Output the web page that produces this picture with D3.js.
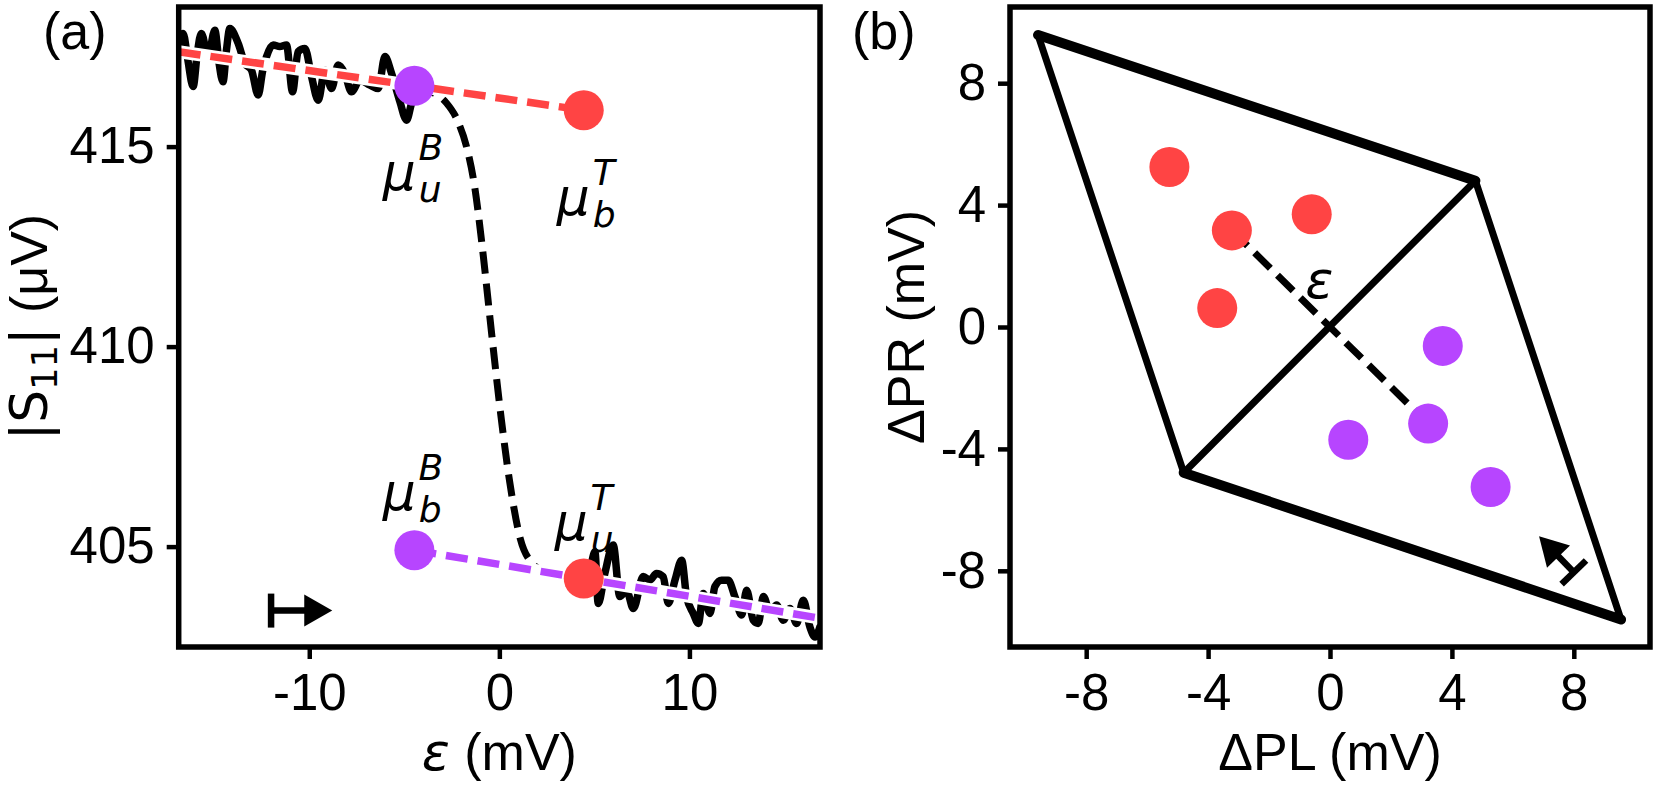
<!DOCTYPE html>
<html>
<head>
<meta charset="utf-8">
<title>Detuning sweep and charge cell</title>
<style>
  body {margin: 0; background: #fff;}
  svg {display: block;}
  .tick text {font-family: "Liberation Sans", Arial, sans-serif; font-size: 51px; fill: #000;}
  .tick line {stroke: #000; stroke-width: 4.5;}
  .label {font-family: "Liberation Sans", Arial, sans-serif; font-size: 52px; fill: #000;}
  .math {font-family: "DejaVu Sans", sans-serif; font-style: italic; fill: #000;}
  .frame {fill: none; stroke: #000; stroke-width: 5.5;}
</style>
</head>
<body>
<svg width="1659" height="785"></svg>
<script src="https://d3js.org/d3.v7.min.js"></script>
<script>
// ---- panel (a) data: |S11| (uV) against detuning eps (mV)
var traceLeft = [
  [-16.87, 417.55], [-16.64, 417.83], [-16.4, 417.2], [-16.11, 416.5], [-15.9, 417.3],
  [-15.68, 417.83], [-15.32, 417.25], [-14.97, 417.91], [-14.75, 417.1], [-14.54, 416.62],
  [-14.36, 417.4], [-14.18, 417.95], [-13.74, 417.58], [-13.39, 417.08], [-13.04, 416.91],
  [-12.69, 416.29], [-12.45, 416.9], [-12.25, 417.25], [-11.9, 417.54], [-11.55, 417.5],
  [-11.2, 417.54], [-10.88, 416.37], [-10.59, 417.37], [-10.23, 417.45], [-9.88, 416.75],
  [-9.53, 416.16], [-9.18, 416.91], [-8.83, 416.45], [-8.48, 417.04], [-8.13, 416.83],
  [-7.78, 416.37], [-7.34, 416.66], [-6.81, 416.54], [-6.37, 416.45], [-6.02, 417.25],
  [-5.67, 416.83], [-5.23, 416.12], [-4.88, 415.66], [-4.62, 416.08], [-4.3, 416.4],
  [-3.9, 416.3]
];
var traceRight = [
  [3.9, 404.3], [4.45, 404.25], [4.8, 404.5], [5.03, 404.87], [5.2, 403.58],
  [5.55, 404.33], [5.99, 405.04], [6.34, 403.75], [6.69, 403.91], [7.05, 403.45],
  [7.57, 404.25], [7.92, 404.16], [8.27, 404.33], [8.62, 404.25], [8.89, 403.58],
  [9.24, 404.16], [9.59, 404.66], [9.85, 403.75], [10.2, 403.33], [10.47, 403.08],
  [10.73, 403.83], [11.08, 403.33], [11.34, 404.0], [11.69, 404.16], [12.04, 404.16],
  [12.39, 403.75], [12.75, 403.29], [13.01, 403.91], [13.36, 403.16], [13.62, 403.08],
  [13.89, 403.75], [14.24, 403.37], [14.59, 403.54], [14.94, 403.16], [15.29, 403.45],
  [15.64, 403.08], [15.99, 403.66], [16.34, 402.99], [16.61, 402.74], [16.87, 403.0]
];
var stepCurve = [
  [-4.47, 416.52], [-3.6, 416.38], [-2.8, 416.1], [-2.2, 415.65], [-1.7, 414.95],
  [-1.3, 414.0], [-0.9, 412.5], [-0.4, 410.3], [0.1, 408.2], [0.55, 406.6],
  [1.1, 405.2], [1.7, 404.6], [2.6, 404.33], [3.5, 404.22], [4.44, 404.2]
];
var fitTop = [[-16.87, 417.37], [4.44, 415.91]];
var fitBottom = [[-4.47, 404.91], [16.87, 403.21]];
var redA = [[4.44, 415.91], [4.44, 404.2]];
var purpleA = [[-4.47, 416.52], [-4.47, 404.91]];
var muLabels = [
  {x: -4.72, y: 414.44, sub: "u", sup: "B"},
  {x: 4.44, y: 413.82, sub: "b", sup: "T"},
  {x: -4.72, y: 406.44, sub: "b", sup: "B"},
  {x: 4.33, y: 405.7, sub: "u", sup: "T"}
];
var arrowA = [[-12.01, 403.4], [-8.79, 403.4]];
var ticksAx = [-10, 0, 10];
var ticksAy = [405, 410, 415];

// ---- panel (b) data: dPL, dPR (mV)
var cellCorners = [[-9.58, 9.58], [4.77, 4.8], [9.55, -9.6], [-4.8, -4.78]];
var thickEdges = [[0, 1], [3, 2]];
var thinEdges = [[0, 3], [1, 2], [3, 1]];
var redB = [[-5.27, 5.25], [-3.22, 3.17], [-0.6, 3.7], [-3.7, 0.62]];
var purpleB = [[5.27, -5.25], [3.22, -3.17], [0.6, -3.7], [3.7, -0.62]];
var detuningLine = [[-3.22, 3.17], [3.22, -3.17]];
var epsLabelB = [-0.35, 1.55];
var arrowB = [[8.0, -8.05], [6.86, -6.87]];
var ticksB = [-8, -4, 0, 4, 8];

var RED = "#ff4444", PURPLE = "#b745ff";

var svg = d3.select("svg");
var fa = {left: 178.7, right: 820, top: 7, bottom: 647};
var fb = {left: 1010, right: 1650, top: 7, bottom: 647};

var xA = d3.scaleLinear().domain([-16.87, 16.87]).range([fa.left, fa.right]);
var yA = d3.scaleLinear().domain([402.49, 418.49]).range([fa.bottom, fa.top]);
var xB = d3.scaleLinear().domain([-10.5, 10.5]).range([fb.left, fb.right]);
var yB = d3.scaleLinear().domain([-10.5, 10.5]).range([fb.bottom, fb.top]);

var defs = svg.append("defs");
defs.append("clipPath").attr("id", "clipA").append("rect")
    .attr("x", fa.left).attr("y", fa.top).attr("width", fa.right - fa.left).attr("height", fa.bottom - fa.top);
defs.append("clipPath").attr("id", "clipB").append("rect")
    .attr("x", fb.left).attr("y", fb.top).attr("width", fb.right - fb.left).attr("height", fb.bottom - fb.top);

function fmt(d) { return String(d); }

function drawArrow(g, p0, p1) {
  var dx = p1[0] - p0[0], dy = p1[1] - p0[1];
  var L = Math.hypot(dx, dy), ang = Math.atan2(dy, dx) * 180 / Math.PI;
  var a = g.append("g").attr("transform", "translate(" + p0[0] + "," + p0[1] + ") rotate(" + ang + ")");
  a.append("line").attr("x1", 0).attr("y1", -17).attr("x2", 0).attr("y2", 17)
      .attr("stroke", "#000").attr("stroke-width", 6.5);
  a.append("line").attr("x1", 0).attr("y1", 0).attr("x2", L - 27).attr("y2", 0)
      .attr("stroke", "#000").attr("stroke-width", 6.5);
  a.append("path").attr("d", "M" + (L - 28) + ",-16L" + L + ",0L" + (L - 28) + ",16Z").attr("fill", "#000");
}

// mu label: one text element, sub and sup stacked after the mu
function muLabel(x, y, sub, sup) {
  var t = svg.append("text").attr("class", "math").attr("x", x - 27).attr("y", y + 21).attr("font-size", 52);
  t.append("tspan").text("μ");
  t.append("tspan").attr("font-size", 36).attr("dx", 3).attr("dy", 12).text(sub);
  t.append("tspan").attr("font-size", 36).attr("dx", -23).attr("dy", -42).text(sup);
}

// ================= panel (a)
var pa = svg.append("g").attr("clip-path", "url(#clipA)");
var lineA = d3.line().x(function(d) { return xA(d[0]); }).y(function(d) { return yA(d[1]); });

[traceLeft, traceRight].forEach(function(tr) {
  pa.append("path").attr("d", lineA.curve(d3.curveMonotoneX)(tr))
      .attr("fill", "none").attr("stroke", "#000").attr("stroke-width", 7.5)
      .attr("stroke-linejoin", "round").attr("stroke-linecap", "round");
});

pa.append("path").attr("d", lineA.curve(d3.curveMonotoneX)(stepCurve))
    .attr("fill", "none").attr("stroke", "#000").attr("stroke-width", 7)
    .attr("stroke-dasharray", "22,10");

lineA.curve(d3.curveLinear);
[[fitTop, RED], [fitBottom, PURPLE]].forEach(function(f) {
  pa.append("path").attr("d", lineA(f[0])).attr("fill", "none")
      .attr("stroke", "#fff").attr("stroke-width", 13);
  pa.append("path").attr("d", lineA(f[0])).attr("fill", "none")
      .attr("stroke", f[1]).attr("stroke-width", 7.5).attr("stroke-dasharray", "22,10");
});

pa.selectAll(".red").data(redA).enter().append("circle")
    .attr("cx", function(d) { return xA(d[0]); }).attr("cy", function(d) { return yA(d[1]); })
    .attr("r", 20).attr("fill", RED);
pa.selectAll(".purple").data(purpleA).enter().append("circle")
    .attr("cx", function(d) { return xA(d[0]); }).attr("cy", function(d) { return yA(d[1]); })
    .attr("r", 20).attr("fill", PURPLE);

muLabels.forEach(function(m) { muLabel(xA(m.x), yA(m.y), m.sub, m.sup); });

drawArrow(svg, [xA(arrowA[0][0]), yA(arrowA[0][1])], [xA(arrowA[1][0]), yA(arrowA[1][1])]);

svg.append("g").attr("transform", "translate(0," + fa.bottom + ")")
    .call(d3.axisBottom(xA).tickValues(ticksAx).tickFormat(fmt).tickSize(12).tickPadding(15))
    .call(function(g) { g.select(".domain").remove(); });
svg.append("g").attr("transform", "translate(" + fa.left + ",0)")
    .call(d3.axisLeft(yA).tickValues(ticksAy).tickFormat(fmt).tickSize(12).tickPadding(12))
    .call(function(g) { g.select(".domain").remove(); });
svg.append("rect").attr("class", "frame")
    .attr("x", fa.left).attr("y", fa.top).attr("width", fa.right - fa.left).attr("height", fa.bottom - fa.top);

// axis labels (a)
var xl = svg.append("text").attr("class", "label").attr("x", (fa.left + fa.right) / 2).attr("y", 770)
    .attr("text-anchor", "middle");
xl.append("tspan").attr("class", "math").text("ε");
xl.append("tspan").text(" (mV)");

var yl = svg.append("text").attr("class", "label").attr("font-size", 50).attr("text-anchor", "middle")
    .attr("transform", "translate(47," + (fa.top + fa.bottom) / 2 + ") rotate(-90)");
yl.append("tspan").attr("font-family", "DejaVu Sans").text("|S");
yl.append("tspan").attr("font-family", "DejaVu Sans").attr("font-size", 35).attr("dy", 10).text("11");
yl.append("tspan").attr("font-family", "DejaVu Sans").attr("dy", -10).text("|");
yl.append("tspan").text(" (μV)");

svg.append("text").attr("class", "label").attr("font-size", 55).attr("x", 43).attr("y", 49).text("(a)");

// ================= panel (b)
var pb = svg.append("g").attr("clip-path", "url(#clipB)");
var pt = function(i) { return [xB(cellCorners[i][0]), yB(cellCorners[i][1])]; };

thinEdges.forEach(function(e) {
  pb.append("path").attr("d", d3.line()([pt(e[0]), pt(e[1])]))
      .attr("stroke", "#000").attr("stroke-width", 7).attr("stroke-linecap", "round");
});
thickEdges.forEach(function(e) {
  pb.append("path").attr("d", d3.line()([pt(e[0]), pt(e[1])]))
      .attr("stroke", "#000").attr("stroke-width", 10).attr("stroke-linecap", "round");
});

pb.append("path")
    .attr("d", d3.line().x(function(d) { return xB(d[0]); }).y(function(d) { return yB(d[1]); })(detuningLine))
    .attr("fill", "none").attr("stroke", "#000").attr("stroke-width", 7).attr("stroke-dasharray", "22,10");

pb.selectAll(".red").data(redB).enter().append("circle")
    .attr("cx", function(d) { return xB(d[0]); }).attr("cy", function(d) { return yB(d[1]); })
    .attr("r", 20).attr("fill", RED);
pb.selectAll(".purple").data(purpleB).enter().append("circle")
    .attr("cx", function(d) { return xB(d[0]); }).attr("cy", function(d) { return yB(d[1]); })
    .attr("r", 20).attr("fill", PURPLE);

svg.append("text").attr("class", "math").attr("font-size", 52).attr("text-anchor", "middle")
    .attr("x", xB(epsLabelB[0])).attr("y", yB(epsLabelB[1])).attr("dy", "0.35em").text("ε");

drawArrow(svg, [xB(arrowB[0][0]), yB(arrowB[0][1])], [xB(arrowB[1][0]), yB(arrowB[1][1])]);

svg.append("g").attr("transform", "translate(0," + fb.bottom + ")")
    .call(d3.axisBottom(xB).tickValues(ticksB).tickFormat(fmt).tickSize(12).tickPadding(15))
    .call(function(g) { g.select(".domain").remove(); });
svg.append("g").attr("transform", "translate(" + fb.left + ",0)")
    .call(d3.axisLeft(yB).tickValues(ticksB).tickFormat(fmt).tickSize(12).tickPadding(12))
    .call(function(g) { g.select(".domain").remove(); });
svg.append("rect").attr("class", "frame")
    .attr("x", fb.left).attr("y", fb.top).attr("width", fb.right - fb.left).attr("height", fb.bottom - fb.top);

svg.append("text").attr("class", "label").attr("x", (fb.left + fb.right) / 2).attr("y", 770)
    .attr("text-anchor", "middle").text("ΔPL (mV)");
svg.append("text").attr("class", "label").attr("text-anchor", "middle")
    .attr("transform", "translate(924," + (fb.top + fb.bottom) / 2 + ") rotate(-90)").text("ΔPR (mV)");
svg.append("text").attr("class", "label").attr("font-size", 55).attr("x", 852).attr("y", 49).text("(b)");
</script>
</body>
</html>
